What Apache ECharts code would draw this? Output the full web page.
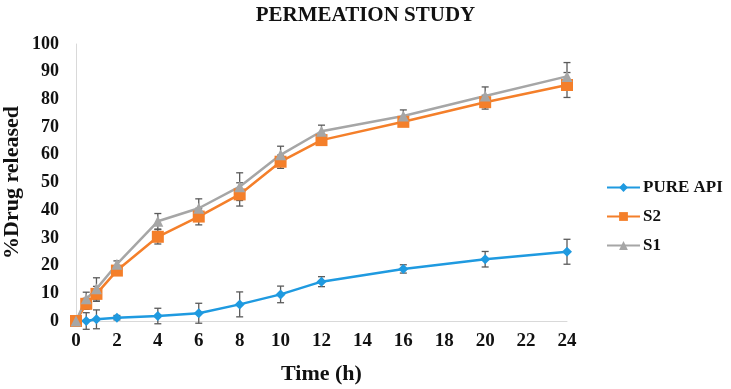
<!DOCTYPE html>
<html>
<head>
<meta charset="utf-8">
<script src="https://cdn.jsdelivr.net/npm/echarts@6/dist/echarts.min.js"></script>
<style>
  html, body { margin: 0; padding: 0; background: #fff; }
  #chart { width: 731px; height: 389px; }
</style>
</head>
<body>
<div id="chart"></div>
<script>
// sampling times (h)
var times = [0, 0.5, 1, 2, 4, 6, 8, 10, 12, 16, 20, 24];

// % drug released
var pureApi = [0, 0, 0.6, 1.2, 1.8, 2.8, 6, 9.6, 14.2, 18.8, 22.3, 25];
var s2 = [0, 6.2, 9.8, 18.2, 30.4, 37.7, 45.7, 57.5, 65.3, 71.9, 79, 85.2];
var s1 = [0, 8, 11.6, 20.5, 36, 40.7, 48.5, 60, 68.5, 74, 81.2, 88.3];

// standard deviations (error bars)
var pureErr = [0, 3, 3.4, 0.8, 2.8, 3.6, 4.5, 3, 1.8, 1.5, 2.8, 4.5];
var s2Err = [0, 2, 2.7, 1, 2.6, 3, 4.2, 2.4, 1.5, 1.5, 2.5, 4.5];
var s1Err = [0, 2.4, 4, 1.2, 2.8, 3.4, 5, 3.1, 2.2, 2.2, 3.3, 5];

var font = "'Liberation Serif', 'Times New Roman', serif";

function pairs(vals) {
    return times.map(function (t, i) { return [t, vals[i]]; });
}

function errData(vals, errs) {
    return times.map(function (t, i) { return [t, vals[i] - errs[i], vals[i] + errs[i]]; });
}

function renderErr(params, api) {
    var x = api.value(0);
    var lo = api.coord([x, api.value(1)]);
    var hi = api.coord([x, api.value(2)]);
    if (Math.abs(lo[1] - hi[1]) < 1) return;
    var w = 3.5;
    var style = { stroke: '#5a5a5a', lineWidth: 1.3 };
    return {
        type: 'group',
        children: [
            { type: 'line', shape: { x1: hi[0], y1: hi[1], x2: lo[0], y2: lo[1] }, style: style },
            { type: 'line', shape: { x1: hi[0] - w, y1: hi[1], x2: hi[0] + w, y2: hi[1] }, style: style },
            { type: 'line', shape: { x1: lo[0] - w, y1: lo[1], x2: lo[0] + w, y2: lo[1] }, style: style }
        ]
    };
}

var chart = echarts.init(document.getElementById('chart'));

var option = {
    animation: false,
    title: {
        text: 'PERMEATION STUDY',
        left: 'center',
        top: 0,
        textStyle: { fontFamily: font, fontWeight: 'bold', fontSize: 21, color: '#111' }
    },
    legend: {
        orient: 'vertical',
        left: 601,
        top: 174,
        itemWidth: 33,
        itemHeight: 11,
        itemGap: 12,
        data: ['PURE API', 'S2', 'S1'],
        textStyle: { fontFamily: font, fontWeight: 'bold', fontSize: 17, color: '#111', padding: [0, 0, 0, -2] }
    },
    grid: { left: 76, right: 164, top: 44, bottom: 68, outerBoundsMode: 'none' },
    xAxis: {
        type: 'value',
        min: 0,
        max: 24,
        interval: 2,
        name: 'Time (h)',
        nameLocation: 'middle',
        nameGap: 42,
        nameTextStyle: { fontFamily: font, fontWeight: 'bold', fontSize: 22, color: '#111' },
        axisLine: { lineStyle: { color: '#d9d9d9', width: 1 } },
        axisTick: { show: false },
        splitLine: { show: false },
        axisLabel: { fontFamily: font, fontWeight: 'bold', fontSize: 19, color: '#111', margin: 11 }
    },
    yAxis: {
        type: 'value',
        min: 0,
        max: 100,
        interval: 10,
        name: '%Drug released',
        nameLocation: 'middle',
        nameGap: 53,
        nameMoveOverlap: false,
        nameTextStyle: { fontFamily: font, fontWeight: 'bold', fontSize: 22, color: '#111' },
        axisLine: { show: true, lineStyle: { color: '#d9d9d9', width: 1 } },
        axisTick: { show: false },
        splitLine: { show: false },
        axisLabel: { fontFamily: font, fontWeight: 'bold', fontSize: 18, color: '#111', margin: 17 }
    },
    series: [
        {
            name: 'PURE API-err',
            type: 'custom',
            renderItem: renderErr,
            data: errData(pureApi, pureErr),
            z: 1,
            silent: true
        },
        {
            name: 'S2-err',
            type: 'custom',
            renderItem: renderErr,
            data: errData(s2, s2Err),
            z: 1,
            silent: true
        },
        {
            name: 'S1-err',
            type: 'custom',
            renderItem: renderErr,
            data: errData(s1, s1Err),
            z: 1,
            silent: true
        },
        {
            name: 'PURE API',
            type: 'line',
            data: pairs(pureApi),
            symbol: 'diamond',
            symbolSize: 10,
            lineStyle: { color: '#1f9ae0', width: 2.5 },
            itemStyle: { color: '#1f9ae0' },
            z: 3
        },
        {
            name: 'S2',
            type: 'line',
            data: pairs(s2),
            symbol: 'rect',
            symbolSize: 12,
            lineStyle: { color: '#f47f2a', width: 2.5 },
            itemStyle: { color: '#f47f2a' },
            z: 3
        },
        {
            name: 'S1',
            type: 'line',
            data: pairs(s1),
            symbol: 'triangle',
            symbolSize: 11,
            lineStyle: { color: '#a6a6a6', width: 2.5 },
            itemStyle: { color: '#a6a6a6' },
            z: 3
        }
    ]
};

chart.setOption(option);
</script>
</body>
</html>
